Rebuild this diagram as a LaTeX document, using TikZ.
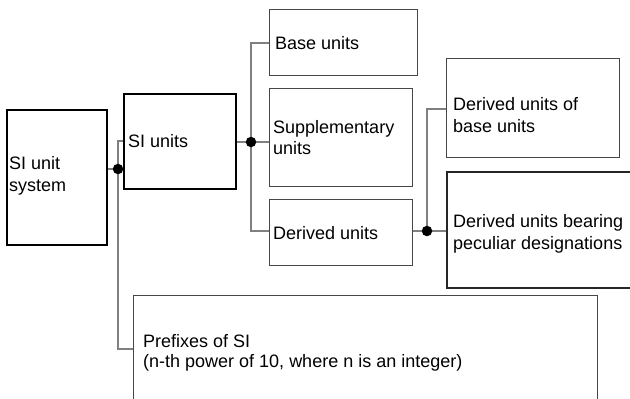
\documentclass[tikz,border=0pt]{standalone}
\usepackage{fontspec}
\setmainfont{Liberation Sans}
\begin{document}
\begin{tikzpicture}[x=1pt,y=-1pt,
  thickbox/.style={draw=black,line width=2pt,rectangle,anchor=north west,inner sep=0pt},
  thinbox/.style={draw=black!72,line width=1.3pt,rectangle,anchor=north west,inner sep=0pt},
  txt/.style={anchor=west,inner sep=0pt,align=left,font=\fontsize{18}{21.5}\selectfont},
  cn/.style={draw=black!50,line width=1.1pt},
  dot/.style={circle,fill=black,inner sep=0pt,minimum size=10.5pt}]
\useasboundingbox (0,0) rectangle (630,399);
\clip (0,0) rectangle (630,399);
% boxes
\node[thickbox,minimum width=100pt,minimum height=135pt] (sys) at (6,109) {};
\node[txt,font=\fontsize{18}{22}\selectfont] (syst) at ([xshift=3pt,yshift=1.5pt]sys.west) {SI unit\\system};
\node[thickbox,minimum width=112pt,minimum height=95pt] (siu) at (123,93) {};
\node[txt] (siut) at ([xshift=5pt]siu.west) {SI units};
\node[thinbox,minimum width=148pt,minimum height=66pt] (base) at (269,9) {};
\node[txt] (baset) at ([xshift=6pt]base.west) {Base units};
\node[thinbox,minimum width=143pt,minimum height=98pt] (sup) at (269,88) {};
\node[txt] (supt) at ([xshift=4pt]sup.west) {Supplementary\\units};
\node[thinbox,minimum width=143pt,minimum height=66pt] (der) at (269,199) {};
\node[txt] (dert) at ([xshift=4pt]der.west) {Derived units};
\node[thinbox,minimum width=173pt,minimum height=99pt] (dob) at (446,58) {};
\node[txt] (dobt) at ([xshift=7pt,yshift=-7pt]dob.west) {Derived units of\\base units};
\node[thinbox,draw=black!85,line width=1.6pt,minimum width=200pt,minimum height=116pt] (dub) at (446,171) {};
\node[txt] (dubt) at ([xshift=7pt,yshift=-4pt]dub.west) {Derived units bearing\\peculiar designations};
\node[thinbox,minimum width=464pt,minimum height=108pt] (pre) at (133,295) {};
\node[txt,font=\fontsize{18}{20}\selectfont] (pret) at ([xshift=10pt,yshift=-3pt]pre.west) {Prefixes of SI\\(n-th power of 10, where n is an integer)};
% junctions
\coordinate (d1) at (118,169);
\coordinate (d2) at (251,142);
\coordinate (d3) at (427,231);
\coordinate (e1) at (118,141);
\coordinate (e2) at (118,349);
\coordinate (e3) at (251,43);
\coordinate (e4) at (251,231);
\coordinate (e5) at (427,109);
% connectors
\draw[cn] (sys.east |- d1) -- (d1);
\draw[cn] (siu.west |- e1) -- (e1) -- (e2) -- (pre.west |- e2);
\draw[cn] (siu.east |- d2) -- (d2) -- (sup.west |- d2);
\draw[cn] (base.west |- e3) -- (e3) -- (e4) -- (der.west |- e4);
\draw[cn] (der.east |- d3) -- (d3) -- (dub.west |- d3);
\draw[cn] (d3) -- (e5) -- (dob.west |- e5);
\node[dot] (n1) at (d1) {};
\node[dot] (n2) at (d2) {};
\node[dot] (n3) at (d3) {};
\end{tikzpicture}
\end{document}
